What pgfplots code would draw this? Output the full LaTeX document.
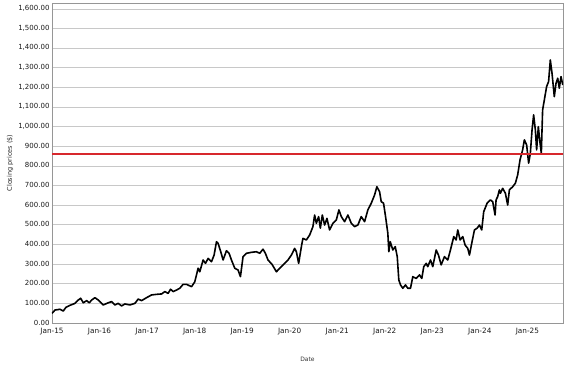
\documentclass[border=0pt]{standalone}
\usepackage{pgfplots}
\pgfplotsset{compat=1.18}
\usepackage{fontspec}
\setmainfont{DejaVu Sans}
\definecolor{gridc}{RGB}{200,200,200}
\definecolor{axc}{RGB}{150,150,150}
\definecolor{redl}{RGB}{215,40,45}
\begin{document}
\begin{tikzpicture}
\useasboundingbox (-52pt,-44pt) rectangle (525pt,323pt);
\begin{axis}[
  at={(0,0)}, anchor=south west,
  scale only axis, width=511pt, height=320pt,
  xmin=0, xmax=10.75, ymin=0, ymax=1630,
  xtick={0,1,2,3,4,5,6,7,8,9,10},
  xticklabels={Jan-15,Jan-16,Jan-17,Jan-18,Jan-19,Jan-20,Jan-21,Jan-22,Jan-23,Jan-24,Jan-25},
  ytick={0,100,...,1600},
  /pgf/number format/fixed,
  /pgf/number format/fixed zerofill,
  /pgf/number format/precision=2,
  /pgf/number format/1000 sep={,},
  /pgf/number format/assume math mode=true,
  scaled y ticks=false,
  ticklabel style={font=\fontsize{7}{8}\selectfont, text=black!90},
  xticklabel style={font=\fontsize{7.3}{8}\selectfont, yshift=-1.5pt},
  yticklabel style={xshift=1pt, yshift=0.5pt},
  major tick length=0pt,
  ymajorgrids, grid style={gridc, line width=0.7pt},
  axis line style={axc, line width=0.7pt},
  xlabel={Date}, ylabel={Closing prices (\$)},
  xlabel style={at={(axis description cs:0.5,-0.1125)}, anchor=center, font=\fontsize{6}{7}\selectfont, text=black!80},
  ylabel style={at={(axis description cs:-0.0822,0.5)}, anchor=center, font=\fontsize{6.5}{7}\selectfont, text=black!85},
  clip=true,
]
\addplot[black, line width=1.6pt, line join=round] coordinates {
(0.000,49) (0.063,66) (0.168,70) (0.237,61) (0.294,80) (0.378,90) (0.483,100)
(0.553,117) (0.603,126) (0.658,103) (0.729,114) (0.784,103) (0.834,117) (0.903,129)
(0.973,117) (1.078,92) (1.183,103) (1.254,109) (1.324,92) (1.393,100) (1.464,87)
(1.534,97) (1.639,92) (1.744,100) (1.813,122) (1.884,114) (1.989,129) (2.095,143)
(2.200,146) (2.305,148) (2.374,160) (2.443,151) (2.494,172) (2.548,160) (2.620,168)
(2.689,177) (2.758,197) (2.830,197) (2.935,185) (3.004,210) (3.074,279) (3.109,261)
(3.179,321) (3.229,304) (3.284,329) (3.355,312) (3.410,346) (3.460,414) (3.494,406)
(3.550,363) (3.599,321) (3.670,368) (3.725,355) (3.775,321) (3.845,279) (3.914,270)
(3.964,236) (4.019,338) (4.090,355) (4.195,360) (4.300,363) (4.370,355) (4.439,376)
(4.489,355) (4.544,321) (4.628,299) (4.721,261) (4.790,279) (4.895,304) (4.964,321)
(5.036,346) (5.105,380) (5.141,363) (5.189,304) (5.246,389) (5.279,431) (5.351,423)
(5.420,448) (5.489,491) (5.525,550) (5.561,508) (5.609,542) (5.645,483) (5.687,550)
(5.735,499) (5.784,533) (5.840,474) (5.910,508) (5.981,525) (6.036,576) (6.086,542)
(6.155,516) (6.225,550) (6.296,508) (6.366,491) (6.435,499) (6.506,542) (6.576,516)
(6.645,576) (6.716,610) (6.786,652) (6.834,694) (6.891,669) (6.926,618) (6.975,610)
(7.017,542) (7.065,457) (7.086,363) (7.116,414) (7.170,372) (7.221,389) (7.263,338)
(7.296,219) (7.332,194) (7.380,177) (7.437,194) (7.485,177) (7.542,177) (7.590,236)
(7.662,227) (7.731,245) (7.779,227) (7.821,287) (7.872,304) (7.905,287) (7.962,321)
(8.010,287) (8.082,372) (8.130,346) (8.187,296) (8.256,338) (8.326,321) (8.382,372)
(8.452,440) (8.502,423) (8.536,474) (8.586,423) (8.641,440) (8.691,397) (8.746,380)
(8.782,346) (8.830,406) (8.887,474) (8.943,483) (8.992,499) (9.040,474) (9.082,567)
(9.153,610) (9.223,627) (9.271,618) (9.321,550) (9.342,627) (9.376,644) (9.412,678)
(9.433,661) (9.481,686) (9.538,661) (9.586,601) (9.622,678) (9.691,694) (9.748,712)
(9.796,754) (9.846,831) (9.901,882) (9.937,933) (9.985,907) (10.027,814) (10.063,865)
(10.099,984) (10.132,1060) (10.168,984) (10.195,882) (10.231,1000) (10.267,916)
(10.294,865) (10.321,1085) (10.357,1136) (10.405,1204) (10.447,1230) (10.483,1340)
(10.519,1272) (10.567,1153) (10.603,1221) (10.639,1247) (10.672,1196) (10.708,1255)
(10.746,1212)
};
\addplot[redl, line width=1.6pt] coordinates {(0,862) (10.75,862)};
\end{axis}
\end{tikzpicture}
\end{document}
